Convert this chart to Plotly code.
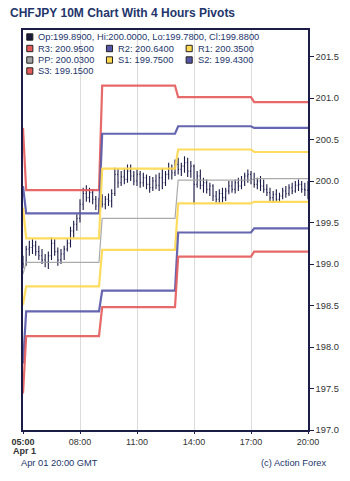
import plotly.graph_objects as go

DAY = "2024-04-01 "
bar_times = ["%02d:%02d" % (h, m) for h in range(5, 21) for m in range(0, 60, 10)]
bar_times = [t for t in bar_times if "05:00" <= t <= "20:00"]

opens = [199.02,199.00,199.18,199.20,199.22,199.15,199.10,199.05,199.02,199.10,199.25,199.15,199.05,199.12,199.18,
         199.25,199.40,199.48,199.55,199.72,199.85,199.80,199.86,199.78,199.70,199.75,199.72,199.78,199.76,199.85,
         200.08,199.98,200.05,200.02,200.12,200.06,200.00,200.08,199.98,200.04,199.96,199.92,200.00,199.95,200.04,
         199.98,200.08,200.15,200.10,200.20,200.14,200.18,200.22,200.12,200.18,199.96,200.06,199.95,199.98,199.90,
         199.94,199.82,199.78,199.85,199.80,199.88,199.94,199.90,199.98,199.94,200.00,200.06,200.08,200.02,199.96,
         200.00,199.94,199.90,199.86,199.80,199.84,199.78,199.82,199.88,199.85,199.92,199.88,199.95,199.96,199.90,199.89]
highs = [199.10,199.22,199.28,199.30,199.28,199.22,199.18,199.12,199.15,199.32,199.30,199.20,199.18,199.22,199.30,
         199.45,199.52,199.60,199.78,199.92,199.95,199.92,199.90,199.82,199.80,199.84,199.82,199.85,199.90,200.16,
         200.15,200.12,200.15,200.20,200.20,200.12,200.14,200.12,200.10,200.08,200.06,200.05,200.08,200.10,200.15,
         200.12,200.22,200.20,200.26,200.28,200.22,200.30,200.28,200.24,200.20,200.12,200.14,200.04,200.02,199.98,
         199.96,199.88,199.90,199.92,199.92,200.00,200.00,200.02,200.04,200.06,200.10,200.14,200.12,200.10,200.04,
         200.06,200.02,199.96,199.92,199.88,199.90,199.86,199.92,199.94,199.96,199.98,200.00,200.02,200.00,199.98,200.00]
lows = [198.95,198.98,199.10,199.12,199.10,199.05,199.00,198.96,198.94,199.05,199.10,198.98,199.00,199.05,199.15,
        199.20,199.32,199.40,199.50,199.65,199.75,199.74,199.72,199.65,199.62,199.68,199.66,199.70,199.68,199.82,
        199.92,199.94,199.96,199.98,200.00,199.95,199.94,199.92,199.93,199.90,199.86,199.88,199.90,199.88,199.90,
        199.94,200.02,200.02,200.06,200.08,200.06,200.10,200.05,200.04,199.72,199.92,199.90,199.86,199.85,199.82,
        199.76,199.74,199.73,199.74,199.76,199.84,199.86,199.85,199.88,199.90,199.94,199.98,199.96,199.92,199.90,
        199.88,199.86,199.82,199.76,199.74,199.75,199.74,199.78,199.80,199.82,199.84,199.86,199.88,199.86,199.82,199.78]
closes = [199.00,199.18,199.20,199.22,199.15,199.10,199.05,199.02,199.10,199.25,199.15,199.05,199.12,199.18,199.25,
          199.40,199.48,199.55,199.72,199.85,199.80,199.86,199.78,199.70,199.75,199.72,199.78,199.76,199.85,200.08,
          199.98,200.05,200.02,200.12,200.06,200.00,200.08,199.98,200.04,199.96,199.92,200.00,199.95,200.04,199.98,
          200.08,200.15,200.10,200.20,200.14,200.18,200.22,200.12,200.18,199.96,200.06,199.95,199.98,199.90,199.94,
          199.82,199.78,199.85,199.80,199.88,199.94,199.90,199.98,199.94,200.00,200.06,200.08,200.02,199.96,200.00,
          199.94,199.90,199.86,199.80,199.84,199.78,199.82,199.88,199.85,199.92,199.88,199.95,199.96,199.90,199.89,199.88]

# 4-hour pivot periods (a bar stamped at a boundary belongs to the earlier period)
period_starts = ["05:00", "09:00", "13:00", "17:00"]
pivot_names = ["R3", "R2", "R1", "PP", "S1", "S2", "S3"]
pivot_values = {
    "R3": [200.64, 199.89, 201.15, 201.01, 200.95],
    "R2": [199.94, 199.61, 200.57, 200.66, 200.64],
    "R1": [199.68, 199.31, 200.15, 200.38, 200.35],
    "PP": [198.88, 199.02, 199.55, 200.01, 200.03],
    "S1": [198.51, 198.73, 199.17, 199.73, 199.75],
    "S2": [197.80, 198.43, 198.68, 199.38, 199.43],
    "S3": [197.44, 198.13, 198.48, 199.09, 199.15],
}
pivot_colors = {"R3": "#e55a5a", "R2": "#5656a8", "R1": "#ffd94f", "PP": "#a3a3a3",
                "S1": "#ffd94f", "S2": "#5656a8", "S3": "#e55a5a"}

x_ticks = ["05:00", "08:00", "11:00", "14:00", "17:00", "20:00"]
x_ticktext = ["<b>05:00</b>", "08:00", "11:00", "14:00", "17:00", "20:00"]
date_label = "Apr 1"

title_text = "CHFJPY 10M Chart With 4 Hours Pivots"
ohlc_label = "Op:199.8900, Hi:200.0000, Lo:199.7800, Cl:199.8800"
footer_left = "Apr 01 20:00 GMT"
footer_right = "(c) Action Forex"

NAVY = "#1c1c48"
TEXT = "#23356b"
FONT = "Liberation Sans, Arial, sans-serif"

xs = [DAY + t for t in bar_times]
fig = go.Figure()

for name in pivot_names:
    ys = []
    for t in bar_times:
        k = sum(1 for p in period_starts if p < t)
        ys.append(pivot_values[name][k])
    fig.add_trace(go.Scatter(
        x=xs, y=ys, mode="lines", showlegend=False, hoverinfo="skip",
        line=dict(color=pivot_colors[name], width=1.2 if name == "PP" else 2.2),
        opacity=0.9,
    ))

fig.add_trace(go.Ohlc(
    x=xs, open=opens, high=highs, low=lows, close=closes, showlegend=False,
    increasing=dict(line=dict(color=NAVY, width=1.1)),
    decreasing=dict(line=dict(color=NAVY, width=1.1)),
    tickwidth=0.28,
))

W, H = 350, 481
L, R, T, B = 11, 35, 30, 51
pw, ph = W - L - R, H - T - B

def px(xp):
    return (xp - L) / pw

def py(yp):
    return 1 - (yp - T) / ph

# legend rows
legend_rows = [
    [("#1a1a3a", ohlc_label, 15)],
    [(pivot_colors["R3"], "R3: %.4f" % pivot_values["R3"][-1], 15),
     (pivot_colors["R2"], "R2: %.4f" % pivot_values["R2"][-1], 100),
     (pivot_colors["R1"], "R1: %.4f" % pivot_values["R1"][-1], 185)],
    [(pivot_colors["PP"], "PP: %.4f" % pivot_values["PP"][-1], 15),
     (pivot_colors["S1"], "S1: %.4f" % pivot_values["S1"][-1], 100),
     (pivot_colors["S2"], "S2: %.4f" % pivot_values["S2"][-1], 185)],
    [(pivot_colors["S3"], "S3: %.4f" % pivot_values["S3"][-1], 15)],
]
row_y = [37, 48.5, 60, 71]
shapes = []
annotations = []
for r, row in enumerate(legend_rows):
    yc = row_y[r]
    for color, label, x0 in row:
        shapes.append(dict(type="rect", xref="paper", yref="paper",
                           x0=px(x0), x1=px(x0 + 6.5), y0=py(yc + 3.2), y1=py(yc - 3.2),
                           fillcolor=color, line=dict(color="#222222", width=1)))
        annotations.append(dict(xref="paper", yref="paper", x=px(x0 + 10), y=py(yc),
                                xanchor="left", yanchor="middle", showarrow=False,
                                text=label, font=dict(size=9.3, color=TEXT, family=FONT)))

annotations.append(dict(xref="paper", yref="paper", x=px(13), y=py(451), xanchor="center",
                        yanchor="middle", showarrow=False, text="<b>" + date_label + "</b>",
                        font=dict(size=9, color="#333333", family=FONT)))
annotations.append(dict(xref="paper", yref="paper", x=px(7), y=py(462.5), xanchor="left",
                        yanchor="middle", showarrow=False, text=footer_left,
                        font=dict(size=9.3, color=TEXT, family=FONT)))
annotations.append(dict(xref="paper", yref="paper", x=px(336), y=py(462.5), xanchor="right",
                        yanchor="middle", showarrow=False, text=footer_right,
                        font=dict(size=9.3, color=TEXT, family=FONT)))

fig.update_layout(
    width=W, height=H,
    margin=dict(l=L, r=R, t=T, b=B),
    paper_bgcolor="white", plot_bgcolor="white",
    font=dict(family=FONT, size=9.3, color="#333333"),
    title=dict(text="<b>" + title_text + "</b>", x=10 / W, xref="container", xanchor="left",
               y=1 - 13 / H, yref="container", yanchor="middle",
               font=dict(size=12, color=TEXT, family=FONT)),
    shapes=shapes, annotations=annotations,
    xaxis=dict(type="date", range=[DAY + "05:00", DAY + "20:00"],
               tickvals=[DAY + t for t in x_ticks], ticktext=x_ticktext,
               showgrid=True, gridcolor="#dcdcdc", gridwidth=1,
               showline=True, mirror=True, linecolor=NAVY, linewidth=1.5,
               ticks="outside", ticklen=2, tickcolor=NAVY,
               tickfont=dict(size=9, color="#333333"),
               rangeslider=dict(visible=False), zeroline=False),
    yaxis=dict(side="right", range=[197.0, 201.82], dtick=0.5, tick0=197.0, tickformat=".1f",
               showgrid=False, showline=True, mirror=True, linecolor=NAVY, linewidth=1.5,
               ticks="outside", ticklen=4, tickcolor=NAVY,
               tickfont=dict(size=9.3, color="#333333"), zeroline=False),
    hovermode=False,
)

fig.write_html("out.html")
